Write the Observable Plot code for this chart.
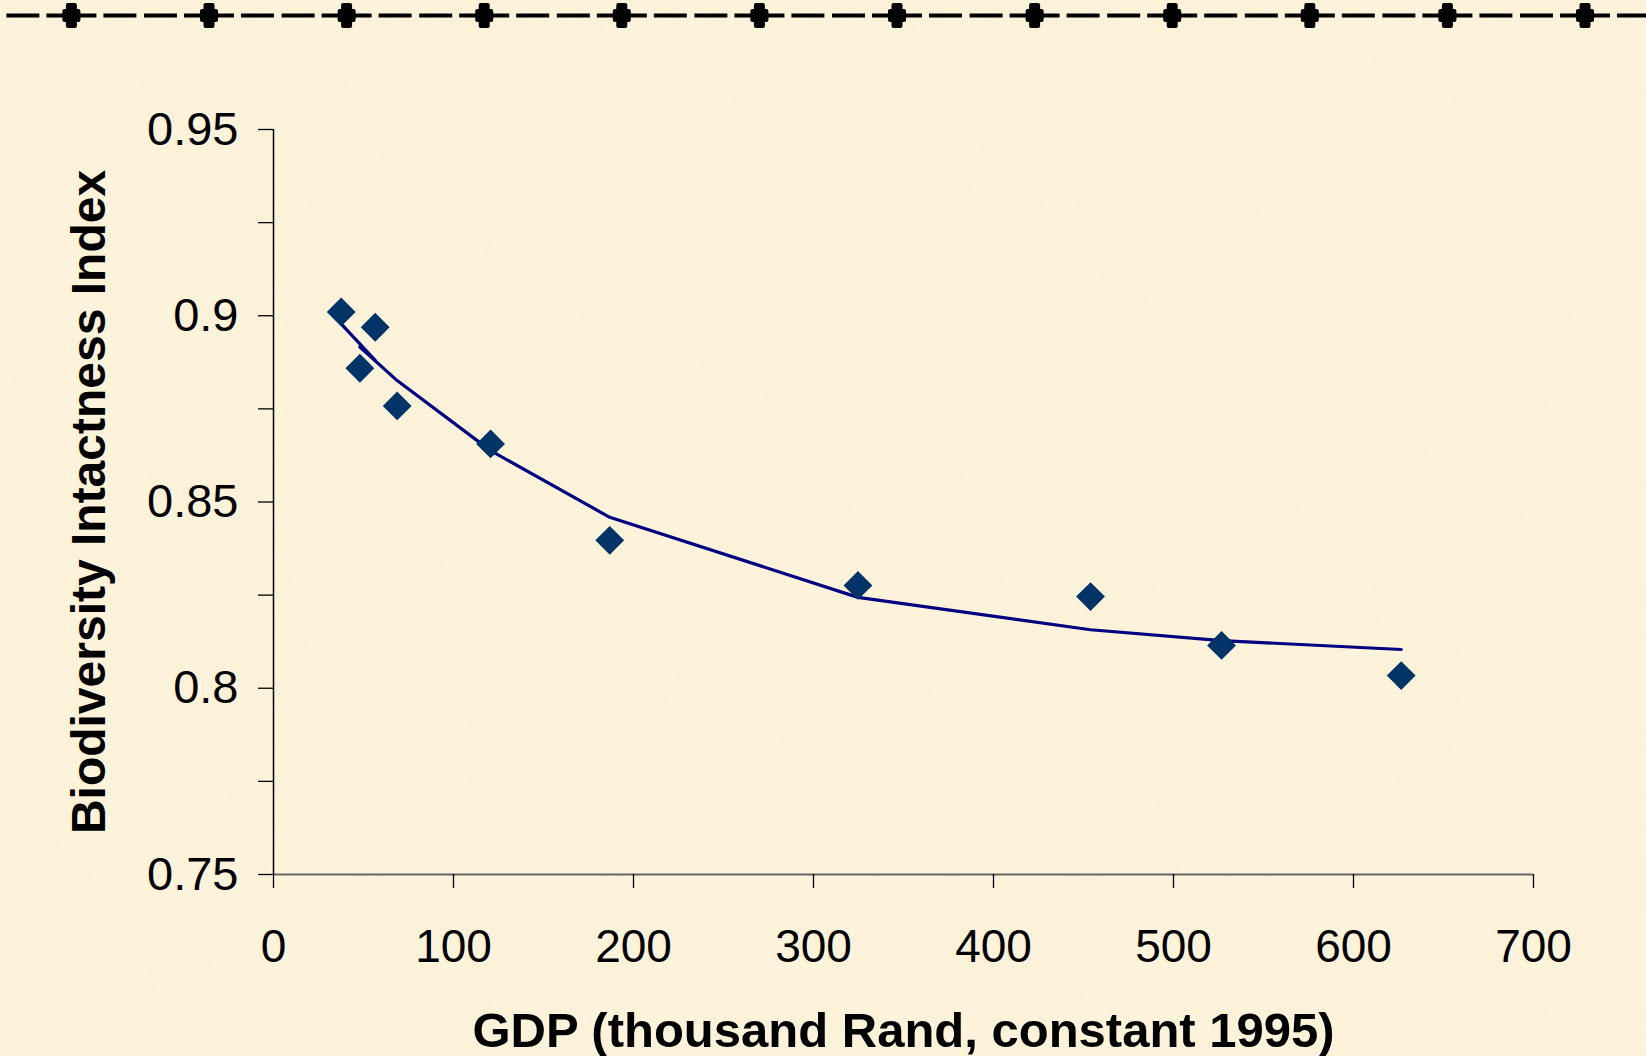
<!DOCTYPE html>
<html><head><meta charset="utf-8">
<script src="https://cdn.jsdelivr.net/npm/d3@7"></script>
<script src="https://cdn.jsdelivr.net/npm/@observablehq/plot@0.6"></script>
<style>
html,body{margin:0;padding:0;background:#FDF3DB;width:1646px;height:1056px;overflow:hidden;}
#wrap{position:relative;width:1646px;height:1056px;}
#tex,#decor,#chart{position:absolute;left:0;top:0;}
</style></head><body><div id="wrap">
<svg id="tex" width="1646" height="1056"><filter id="n" x="0" y="0" width="100%" height="100%"><feTurbulence type="fractalNoise" baseFrequency="0.018" numOctaves="4" seed="7"/><feColorMatrix type="matrix" values="0 0 0 0 0.93  0 0 0 0 0.86  0 0 0 0 0.66  1.3 0 0 0 -0.52"/></filter><rect width="1646" height="1056" filter="url(#n)" opacity="0.45"/></svg>
<svg id="decor"></svg>
<div id="chart"></div>
</div>
<script>
// Data (line order follows the original series order)
const gdp   = [37.6, 56.5, 48.0, 68.7, 120.6, 186.8, 324.7, 453.9, 526.7, 626.5];
const bii   = [0.9010, 0.8969, 0.8859, 0.8758, 0.8656, 0.8397, 0.8276, 0.8246, 0.8115, 0.8034];
const trend = [0.8978, 0.8880, 0.8916, 0.8826, 0.8638, 0.8459, 0.8244, 0.8157, 0.8128, 0.8104];
const xTicks = [0, 100, 200, 300, 400, 500, 600, 700];
const yTicks = [0.75, 0.8, 0.85, 0.9, 0.95];
const yMinorTicks = [0.775, 0.825, 0.875, 0.925];
const xLabel = "GDP (thousand Rand, constant 1995)";
const yLabel = "Biodiversity Intactness Index";

const rows = gdp.map((g, i) => ({gdp: g, bii: bii[i], trend: trend[i]}));
const FONT = "'Liberation Sans', Arial, Helvetica, sans-serif";

const chart = Plot.plot({
  width: 1646, height: 1056,
  marginLeft: 273, marginRight: 113, marginTop: 129, marginBottom: 182,
  style: {background: "transparent", fontFamily: FONT, color: "#000", overflow: "visible"},
  x: {domain: [0, 700]},
  y: {domain: [0.75, 0.95]},
  marks: [
    Plot.ruleY([0.75], {stroke: "#666", strokeWidth: 2}),
    Plot.ruleX([0], {stroke: "#000", strokeWidth: 1.5}),
    Plot.axisY({ticks: yMinorTicks, tickSize: 15, tickFormat: () => "", label: null, stroke: "#000", strokeWidth: 1.3}),
    Plot.axisY({ticks: yTicks, tickSize: 15, tickPadding: 20, fontSize: 47, tickFormat: d => String(d), label: null, stroke: "#000", strokeWidth: 1.3}),
    Plot.axisX({ticks: xTicks, tickSize: 14, tickPadding: 41, fontSize: 46, tickFormat: d => String(d), label: null, stroke: "#000", strokeWidth: 1.3}),
    Plot.line(rows, {x: "gdp", y: "trend", stroke: "#000080", strokeWidth: 3.2, strokeLinejoin: "round"}),
    Plot.dot(rows, {x: "gdp", y: "bii", symbol: "diamond2", r: 13, fill: "#003366", stroke: "none"}),
    Plot.text([xLabel], {text: d => d, frameAnchor: "bottom", dy: 172, fontSize: 49, fontWeight: "bold"}),
    Plot.text([yLabel], {text: d => d, frameAnchor: "left", textAnchor: "middle", dx: -184, rotate: -90, fontSize: 48, fontWeight: "bold"})
  ]
});
document.getElementById("chart").appendChild(chart);

// Decorative dashed rule with markers across the top
const dsvg = d3.select("#decor").attr("width", 1646).attr("height", 40);
const period = 137.6, first = 71.4, ly = 15.5;
dsvg.append("line")
  .attr("x1", first - 25 - period).attr("x2", 1760)
  .attr("y1", ly).attr("y2", ly)
  .attr("stroke", "#000").attr("stroke-width", 4)
  .attr("stroke-dasharray", "50 7 33 7.6 33 7");
for (let cx = first; cx < 1646 + 20; cx += period) {
  dsvg.append("rect").attr("x", cx - 5.5).attr("y", ly - 12.5).attr("width", 11).attr("height", 25).attr("rx", 2).attr("fill", "#000");
  dsvg.append("rect").attr("x", cx - 9).attr("y", ly - 6.5).attr("width", 18).attr("height", 13).attr("rx", 2).attr("fill", "#000");
}
</script>
</body></html>
